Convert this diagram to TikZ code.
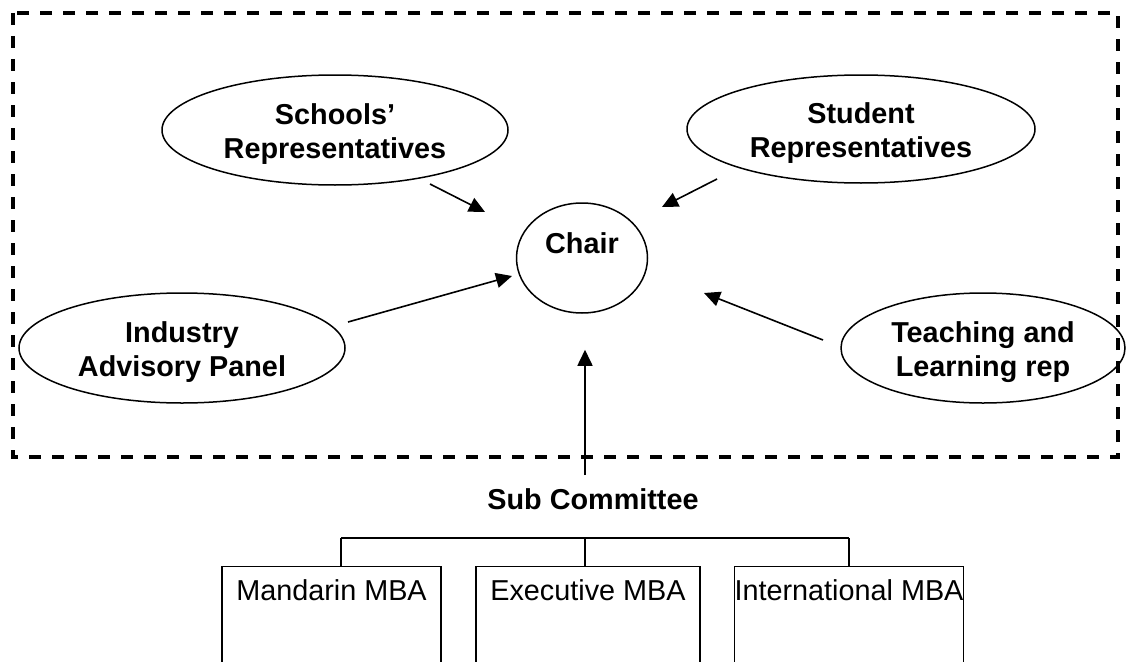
\documentclass[tikz,border=0pt]{standalone}
\usepackage{fontspec}
\setmainfont{Liberation Sans}
\usetikzlibrary{shapes.geometric,arrows.meta}
\begin{document}
\begin{tikzpicture}[x=1pt,y=-1pt,
  bigfont/.style={font=\fontsize{28.8}{34}\selectfont\bfseries},
  oval/.style={ellipse,draw,line width=1.5pt,inner sep=0pt,align=center,bigfont},
  arr/.style={line width=1.6pt,-{Triangle[length=16pt,width=15pt]}},
  frame/.style={line width=4pt,dash pattern=on 12pt off 11pt},
  conn/.style={line width=1.3pt},
  mba/.style={draw,line width=1.3pt,anchor=north,inner xsep=0pt,inner ysep=13pt,
    text height=20.7pt,text depth=90pt,font=\fontsize{28.8}{34}\selectfont}]
\useasboundingbox (0,0) rectangle (1126,661);

% ellipses
\node[oval,minimum width=346,minimum height=110] (schools) at (335,130)
  {\rule{0pt}{29pt}Schools’\\Representatives};
\node[oval,minimum width=348,minimum height=108] (student) at (861,129)
  {\rule{0pt}{29pt}Student\\Representatives};
\node[oval,minimum width=131,minimum height=110] (chair) at (582,258)
  {\rule{0pt}{25pt}Chair\\\mbox{}};
\node[oval,minimum width=326,minimum height=110] (industry) at (182,348)
  {\rule{0pt}{29pt}Industry\\Advisory Panel};
\node[oval,minimum width=284,minimum height=110] (teaching) at (983,348)
  {\rule{0pt}{29pt}Teaching and\\Learning rep};

% arrow end points
\coordinate (schA) at (430,184); \coordinate (schB) at (485,212);
\coordinate (stuA) at (717,179); \coordinate (stuB) at (662,207);
\coordinate (indA) at (348,322); \coordinate (indB) at (512,276);
\coordinate (teaA) at (823,340); \coordinate (teaB) at (704,293);

\draw[arr] (schA) -- (schB);
\draw[arr] (stuA) -- (stuB);
\draw[arr] (indA) -- (indB);
\draw[arr] (teaA) -- (teaB);

% frame
\draw[frame] (13,13) rectangle (1118,457);

% sub committee
\node[bigfont,inner sep=0pt] (sub) at (593,499) {Sub Committee};
\draw[arr] ([xshift=-8pt,yshift=13pt]sub.north) -- ([xshift=3pt,yshift=-36pt]chair.south);

% boxes
\node[mba,minimum width=219] (m1) at (331.5,566) {Mandarin MBA};
\node[mba,minimum width=224] (m2) at (588,566) {Executive MBA};
\node[mba,minimum width=220] (m3) at (849,566) {International MBA};

\coordinate (busL) at (341,538);
\coordinate (busM) at (585,538);
\coordinate (busR) at (849,538);
\draw[conn] (busL) -- (busR);
\draw[conn] (busL) -- (busL |- m1.north);
\draw[conn] (busM) -- (busM |- m2.north);
\draw[conn] (busR) -- (busR |- m3.north);
\end{tikzpicture}
\end{document}
